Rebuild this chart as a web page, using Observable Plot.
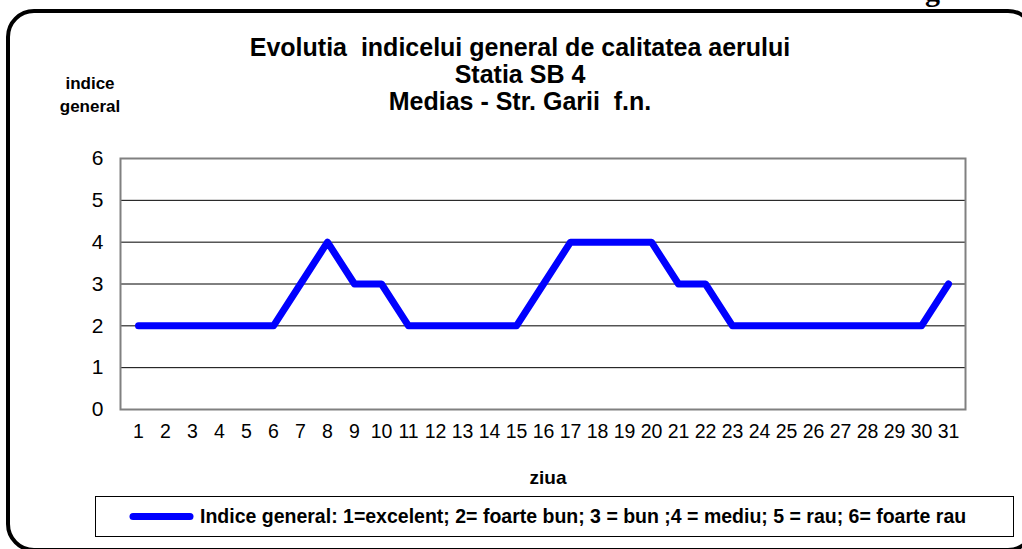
<!DOCTYPE html>
<html>
<head>
<meta charset="utf-8">
<script src="https://cdn.jsdelivr.net/npm/d3@7"></script>
<script src="https://cdn.jsdelivr.net/npm/@observablehq/plot@0.6"></script>
<style>
  html, body { margin: 0; padding: 0; background: #fff; }
  #wrap { position: relative; width: 1022px; height: 549px; overflow: hidden; font-family: "Liberation Sans", Arial, sans-serif; }
  #wrap svg { position: absolute; left: 0; top: 0; }
  .t { position: absolute; white-space: pre; color: #000; }
  .b { font-weight: bold; }
</style>
</head>
<body>
<div id="wrap"></div>
<script>
const days = d3.range(1, 32);
const indexValues = [2,2,2,2,2,2,3,4,3,3,2,2,2,2,2,3,4,4,4,4,3,3,2,2,2,2,2,2,2,2,3];
const yTicks = [0,1,2,3,4,5,6];
const gridValues = [1,2,3,4,5];
const titleLines = ["Evolutia  indicelui general de calitatea aerului", "Statia SB 4", "Medias - Str. Garii  f.n."];
const yLabelLines = ["indice", "general"];
const xLabel = "ziua";
const legendLabel = "Indice general: 1=excelent; 2= foarte bun; 3 = bun ;4 = mediu; 5 = rau; 6= foarte rau";

const data = days.map((d, i) => ({day: d, value: indexValues[i]}));

const chart = Plot.plot({
  width: 1022,
  height: 549,
  marginLeft: 120,
  marginRight: 57,
  marginTop: 158,
  marginBottom: 140,
  style: {fontFamily: "'Liberation Sans', Arial, sans-serif", background: "transparent"},
  x: {type: "point", domain: days, padding: 0.5, label: null},
  y: {domain: [0, 6], ticks: yTicks, label: null},
  marks: [
    Plot.ruleY(gridValues, {stroke: "#000", strokeWidth: 1}),
    Plot.frame({stroke: "#808080", strokeWidth: 2}),
    Plot.ruleX([1], {x: () => null, frameAnchor: "left", stroke: "#555", strokeWidth: 2}),
    Plot.axisX({tickSize: 0, tickPadding: 15, fontSize: 19.5, label: null, fill: "#000"}),
    Plot.axisY({ticks: yTicks, tickFormat: d => String(d), tickSize: 0, tickPadding: 17, fontSize: 21, label: null, fill: "#000"}),
    Plot.line(data, {x: "day", y: "value", stroke: "#0000ff", strokeWidth: 7, strokeLinejoin: "round", strokeLinecap: "round"})
  ]
});

const wrap = document.getElementById("wrap");
wrap.appendChild(chart);

function addText(txt, cls, css) {
  const el = document.createElement("div");
  el.className = "t " + cls;
  el.textContent = txt;
  Object.assign(el.style, css);
  wrap.appendChild(el);
  return el;
}

// cut-off document text at the top
addText("g", "b", {left: "925px", top: "-24px", fontFamily: "'Liberation Serif', 'Times New Roman', serif", fontSize: "30px", lineHeight: "30px"});

// rounded outer frame
const frame = document.createElement("div");
Object.assign(frame.style, {position: "absolute", left: "6px", top: "9px", width: "1030px", height: "543px", border: "4px solid #000", borderRadius: "28px", boxSizing: "border-box"});
wrap.appendChild(frame);

// title
const titleTops = [33, 60, 87];
titleLines.forEach((line, i) => {
  addText(line, "b", {left: "0px", width: "1040px", textAlign: "center", top: titleTops[i] + "px", fontSize: "25px", lineHeight: "28px"});
});

// y label
yLabelLines.forEach((line, i) => {
  addText(line, "b", {left: "40px", width: "100px", textAlign: "center", top: (73 + i * 23) + "px", fontSize: "17px", lineHeight: "21px"});
});

// x label
addText(xLabel, "b", {left: "498px", width: "100px", textAlign: "center", top: "467px", fontSize: "19px", lineHeight: "22px"});

// legend box
const legend = document.createElement("div");
Object.assign(legend.style, {position: "absolute", left: "95px", top: "496px", width: "919px", height: "41px", border: "1px solid #000", boxSizing: "border-box", background: "#fff"});
wrap.appendChild(legend);
const sw = Plot.plot({
  width: 65, height: 20, margin: 0,
  x: {domain: [0, 1], axis: null}, y: {domain: [0, 1], axis: null},
  marks: [Plot.ruleY([0.5], {x1: 0, x2: 1, stroke: "#0000ff", strokeWidth: 7, strokeLinecap: "round", inset: 4})]
});
sw.setAttribute("style", "position:absolute;left:129px;top:506px;");
wrap.appendChild(sw);
addText(legendLabel, "b", {left: "200px", top: "504px", fontSize: "19.5px", lineHeight: "24px"});
</script>
</body>
</html>
